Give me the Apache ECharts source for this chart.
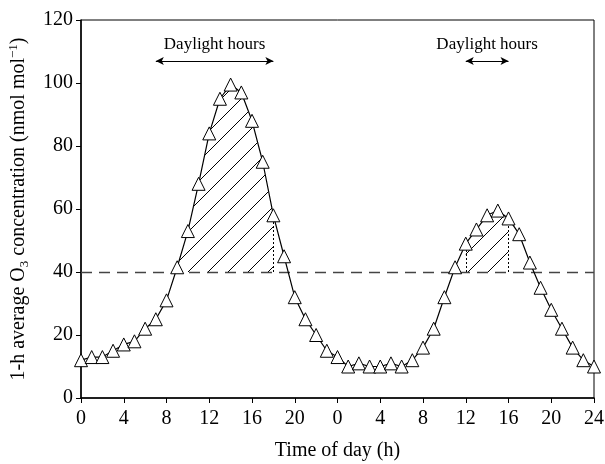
<!DOCTYPE html>
<html lang="en">
<head>
    <meta charset="UTF-8">
    <title>O3 concentration</title>
    <style>
        html, body { margin: 0; padding: 0; background: #fff; }
    </style>
</head>
<body>
<div id="demo" style="width: 605px;height: 464px;"></div>
<script src="https://cdn.jsdelivr.net/npm/echarts@6/dist/echarts.min.js"></script>
<script>
    /*hours 0..48 (two days)*/
    var hours = [];
    for (var i = 0; i <= 48; i++) hours.push(i);
    /*1-h average O3, nmol/mol*/
    var o3 = [12, 13, 13, 15, 17, 18, 22, 25, 31,
        41.5, 53, 68, 84, 95, 99.5, 97, 88, 75, 58,
        45, 32, 25, 20, 15, 13,
        10, 11, 10, 10, 11, 10, 12, 16, 22, 32,
        41.5, 49, 53.5, 58, 59.5, 57, 52, 43, 35, 28,
        22, 16, 12, 10];
    var threshold = 40;
    /*hatched regions (hour index start/end)*/
    var hatch = [[9, 18], [36, 40]];
    /*daylight arrows*/
    var daylight = [[7, 18], [36, 40]];
    var arrowLevel = 107;
    var xTicks = [0, 4, 8, 12, 16, 20, 0, 4, 8, 12, 16, 20, 24];

    var serif = '"Liberation Serif", "DejaVu Serif", serif';

    // diagonal hatch pattern
    var pat = document.createElement('canvas');
    pat.width = 20; pat.height = 20;
    var ctx = pat.getContext('2d');
    ctx.strokeStyle = '#000';
    ctx.lineWidth = 1;
    ctx.beginPath();
    [-20, 0, 20].forEach(function (o) {
        ctx.moveTo(o - 2, 22);
        ctx.lineTo(o + 22, -2);
    });
    ctx.stroke();

    var chart = echarts.init(document.getElementById('demo'));

    var dotted = [];
    dotted.push([{coord: [18, threshold]}, {coord: [18, o3[18]]}]);
    dotted.push([{coord: [36, threshold]}, {coord: [36, o3[36]]}]);
    dotted.push([{coord: [40, threshold]}, {coord: [40, o3[40]]}]);

    var option = {
        animation: false,
        grid: {
            left: 81, right: 11, top: 20, bottom: 66,
            outerBoundsMode: 'none',
            show: true, borderColor: '#000', borderWidth: 1
        },
        xAxis: {
            type: 'value', min: 0, max: 48, interval: 4,
            name: 'Time of day (h)', nameLocation: 'middle', nameGap: 43,
            nameTextStyle: {fontFamily: serif, fontSize: 20, color: '#000'},
            axisLine: {lineStyle: {color: '#000', width: 1.5}},
            axisTick: {length: 5, lineStyle: {color: '#000'}},
            axisLabel: {
                fontFamily: serif, fontSize: 20, color: '#000', margin: 11,
                formatter: function (v) { return xTicks[v / 4]; }
            },
            splitLine: {show: false}
        },
        yAxis: {
            type: 'value', min: 0, max: 120, interval: 20,
            name: '{a|1-h average O}{sub|3}{a| concentration (nmol mol}{sup|\u22121}{a|)}',
            nameLocation: 'middle', nameGap: 50,
            nameTextStyle: {
                fontFamily: serif, fontSize: 20, color: '#000',
                rich: {
                    a: {fontFamily: serif, fontSize: 20, color: '#000', lineHeight: 24},
                    sub: {fontFamily: serif, fontSize: 13, color: '#000', lineHeight: 13, verticalAlign: 'bottom'},
                    sup: {fontFamily: serif, fontSize: 13, color: '#000', lineHeight: 13, verticalAlign: 'top'}
                }
            },
            axisLine: {show: true, lineStyle: {color: '#000', width: 1.5}},
            axisTick: {show: true, length: 5, lineStyle: {color: '#000'}},
            axisLabel: {fontFamily: serif, fontSize: 20, color: '#000', margin: 8},
            splitLine: {show: false}
        },
        series: [
            {
                type: 'custom',
                silent: true,
                z: 1,
                data: hatch,
                renderItem: function (params, api) {
                    var s = api.value(0), e = api.value(1);
                    var pts = [];
                    // start where the curve crosses the threshold if it is above it
                    if (s > 0 && o3[s - 1] < threshold && o3[s] > threshold) {
                        var xc = (s - 1) + (threshold - o3[s - 1]) / (o3[s] - o3[s - 1]);
                        pts.push(api.coord([xc, threshold]));
                    } else {
                        pts.push(api.coord([s, threshold]));
                    }
                    for (var h = s; h <= e; h++) pts.push(api.coord([h, o3[h]]));
                    pts.push(api.coord([e, threshold]));
                    return {
                        type: 'polygon',
                        shape: {points: pts},
                        style: {fill: {image: pat, repeat: 'repeat'}, stroke: null}
                    };
                }
            },
            {
                type: 'line',
                z: 5,
                data: hours.map(function (h, i) { return [h, o3[i]]; }),
                symbol: 'triangle',
                symbolSize: 13,
                lineStyle: {color: '#000', width: 1.2},
                itemStyle: {color: '#fff', borderColor: '#000', borderWidth: 1},
                markLine: {
                    silent: true,
                    symbol: 'none',
                    label: {show: false},
                    lineStyle: {color: '#444', type: [11, 7], width: 1.3},
                    data: [{yAxis: threshold}]
                }
            },
            {
                type: 'line',
                z: 4,
                data: [],
                markLine: {
                    silent: true,
                    symbol: 'none',
                    label: {show: false},
                    lineStyle: {color: '#000', type: [2, 2], width: 1},
                    data: dotted
                }
            },
            {
                type: 'line',
                z: 4,
                data: [],
                markLine: {
                    silent: true,
                    symbol: ['arrow', 'arrow'],
                    symbolSize: [6, 8],
                    label: {
                        show: true, position: 'middle', distance: 8,
                        formatter: 'Daylight hours',
                        fontFamily: serif, fontSize: 17, color: '#000'
                    },
                    lineStyle: {color: '#000', type: 'solid', width: 1.2},
                    data: daylight.map(function (d) {
                        return [{coord: [d[0], arrowLevel]}, {coord: [d[1], arrowLevel]}];
                    })
                }
            }
        ]
    };
    chart.setOption(option);
</script>
</body>
</html>
